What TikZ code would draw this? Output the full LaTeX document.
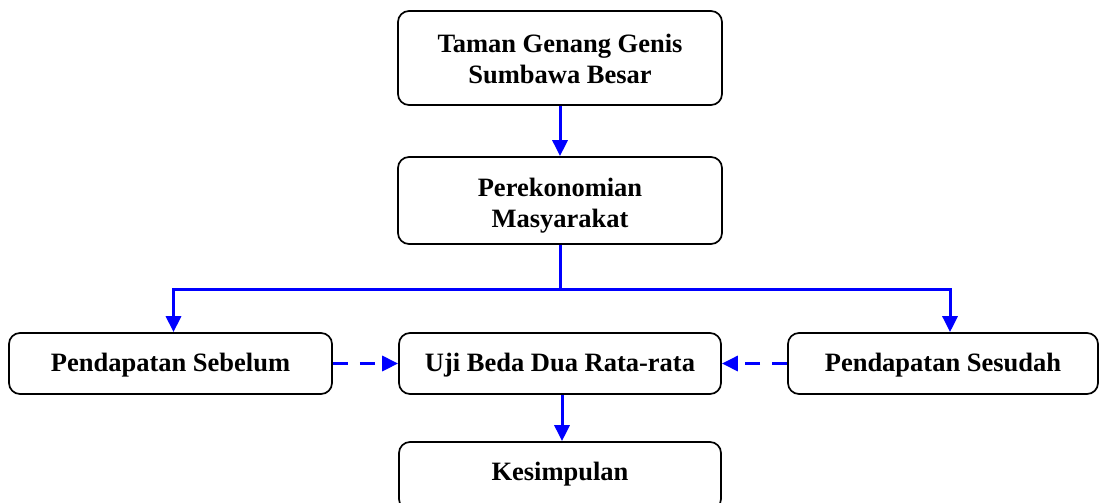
\documentclass[tikz,border=0pt]{standalone}
\usepackage{fontspec}
\setmainfont{Liberation Serif}
\usetikzlibrary{arrows.meta}
\definecolor{flowblue}{RGB}{0,0,255}
\tikzset{
  box/.style={draw=black, line width=1.7pt, rounded corners=11pt, inner sep=0pt},
  txt/.style={align=center, font=\fontsize{26.5}{31}\selectfont\bfseries, inner sep=0pt},
  flow/.style={draw=flowblue, line width=3pt},
  tip/.style={-{Triangle[length=16pt,width=15pt]}},
  dashflow/.style={flow, tip, dash pattern=on 15pt off 12pt}
}
\begin{document}
\begin{tikzpicture}[x=1pt,y=-1pt]
\useasboundingbox (0,0) rectangle (1100,503);
\begin{scope}
\clip (0,0) rectangle (1100,503);
\node[box, minimum width=324pt, minimum height=94pt] (b1) at (560,58) {};
\node[box, minimum width=324pt, minimum height=87pt] (b2) at (560,200.5) {};
\node[box, minimum width=323pt, minimum height=61pt] (left) at (170.5,363.5) {};
\node[box, minimum width=322pt, minimum height=61pt] (mid) at (560,363.5) {};
\node[box, minimum width=310pt, minimum height=61pt] (right) at (943,363.5) {};
\node[box, minimum width=322pt, minimum height=68pt] (b5) at (560,476) {};
\end{scope}
\node[txt] (b1t) at ([yshift=-1pt]b1.center) {Taman Genang Genis\\Sumbawa Besar};
\node[txt] (b2t) at ([yshift=-5pt]b2.center) {Perekonomian\\Masyarakat};
\node[txt] (leftt) at ([yshift=-2pt]left.center) {Pendapatan Sebelum};
\node[txt] (midt) at ([yshift=-2pt]mid.center) {Uji Beda Dua Rata-rata};
\node[txt] (rightt) at ([yshift=-2pt]right.center) {Pendapatan Sesudah};
\node[txt] (b5t) at ([yshift=2pt]b5.center) {Kesimpulan};
\coordinate (j) at (560,289);
\draw[flow, tip] (b1.south) -- (b2.north);
\draw[flow] (b2.south) -- (j);
\draw[flow, tip] (j) -| ([xshift=3pt]left.north);
\draw[flow, tip] (j) -| ([xshift=7pt]right.north);
\draw[dashflow] (left.east) -- (mid.west);
\draw[dashflow] (right.west) -- (mid.east);
\draw[flow, tip] ([xshift=2pt]mid.south) -- ([xshift=2pt]b5.north);
\end{tikzpicture}
\end{document}
